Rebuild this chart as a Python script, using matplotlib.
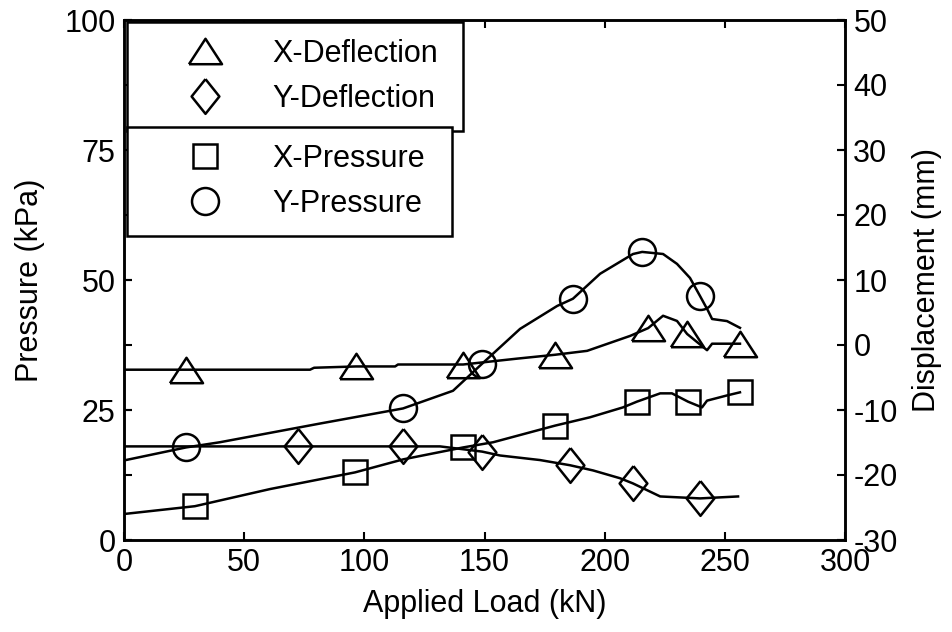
import matplotlib
matplotlib.use('Agg')
import matplotlib.pyplot as plt
from matplotlib.lines import Line2D

plt.rcParams['font.family'] = ['Liberation Sans', 'DejaVu Sans']
plt.rcParams['font.size'] = 22
plt.rcParams['axes.unicode_minus'] = False

# applied load (kN) and readings
load_xdef = [0, 25.8, 77.4, 79.1, 96.5, 112.8, 114.0, 141.1, 163.5, 179.4,
             192.7, 210.6, 218.1, 224.3, 230.1, 234.3, 242.6, 244.7, 256.3]
x_deflection = [-3.8, -3.8, -3.8, -3.5, -3.3, -3.3, -3.0, -3.0, -2.1, -1.5,
                -0.9, 1.4, 2.6, 4.5, 3.7, 1.7, -0.8, 0.2, 0.2]
xdef_marks = [1, 4, 7, 9, 12, 15, 18]

load_ydef = [0, 72.4, 116.1, 131.5, 149.0, 156.5, 173.1, 185.6, 195.2, 206.4,
             211.8, 223.1, 239.7, 255.5]
y_deflection = [-15.6, -15.6, -15.6, -15.6, -16.4, -17.0, -17.7, -18.5, -19.3,
                -20.5, -21.3, -23.3, -23.6, -23.3]
ydef_marks = [1, 2, 4, 7, 10, 12]

load_xp = [0, 29.5, 60.8, 96.1, 116.1, 141.1, 153.6, 179.4, 193.9, 207.6,
           213.4, 223.1, 228.0, 234.7, 240.5, 242.6, 250.9, 256.3]
x_pressure = [5.0, 6.5, 9.8, 13.0, 15.5, 17.8, 18.8, 22.0, 23.6, 25.5,
              26.6, 28.2, 28.2, 26.6, 25.5, 26.8, 27.8, 28.4]
xp_marks = [1, 3, 5, 7, 10, 13, 17]

load_yp = [0, 25.8, 39.9, 81.6, 116.1, 136.9, 149.0, 164.8, 180.2, 186.8,
           198.1, 211.8, 215.6, 224.3, 230.1, 235.5, 239.7, 243.0, 244.7,
           250.9, 256.3]
y_pressure = [15.3, 17.8, 18.8, 22.4, 25.3, 28.7, 33.9, 40.6, 45.0, 46.4,
              51.2, 55.0, 55.4, 55.0, 53.1, 50.4, 46.9, 44.1, 42.5, 42.1, 40.8]
yp_marks = [1, 4, 6, 9, 12, 16]

# marker shapes (triangle wider than tall, diamond taller than wide)
TRI = [(-1.3, -1.0), (1.3, -1.0), (0, 1.0), (-1.3, -1.0)]
DIA = [(0, 1.25), (1.0, 0), (0, -1.25), (-1.0, 0), (0, 1.25)]
MARKERS = {
    'X-Deflection': dict(marker=TRI, markersize=23.8),
    'Y-Deflection': dict(marker=DIA, markersize=25),
    'X-Pressure': dict(marker='s', markersize=17.3),
    'Y-Pressure': dict(marker='o', markersize=19.4),
}
LW = 1.8

fig = plt.figure(figsize=(9.53, 6.32), dpi=100)
ax = fig.add_axes([124 / 953, 1 - 540 / 632, 721 / 953, 520 / 632])
ax2 = ax.twinx()


def draw(axis, x, y, marks, name):
    axis.plot(x, y, color='black', linewidth=LW, markevery=marks,
              markerfacecolor='none', markeredgecolor='black',
              markeredgewidth=LW, **MARKERS[name])


# pressure on the left axis, displacement on the right axis
draw(ax, load_xp, x_pressure, xp_marks, 'X-Pressure')
draw(ax, load_yp, y_pressure, yp_marks, 'Y-Pressure')
draw(ax2, load_xdef, x_deflection, xdef_marks, 'X-Deflection')
draw(ax2, load_ydef, y_deflection, ydef_marks, 'Y-Deflection')

ax.set_xlim(0, 300)
ax.set_ylim(0, 100)
ax2.set_ylim(-30, 50)
ax.set_xticks(range(0, 301, 50))
ax.set_yticks(range(0, 101, 25))
ax2.set_yticks(range(-30, 51, 10))

ax.tick_params(direction='in', length=6, width=1.5, top=True, right=True,
               pad=6)
ax2.tick_params(direction='in', length=6, width=1.5, left=True, pad=6)
for a in (ax, ax2):
    for s in a.spines.values():
        s.set_linewidth(1.8)

ax.set_xlabel('Applied Load (kN)', labelpad=8)
ax.set_ylabel('Pressure (kPa)', labelpad=14)
ax2.set_ylabel('Displacement (mm)', labelpad=10)


def handle(name):
    return Line2D([], [], linestyle='none', color='black',
                  markerfacecolor='none', markeredgewidth=LW,
                  **MARKERS[name])


leg_kw = dict(loc='upper left', mode='expand', borderaxespad=0,
              borderpad=0.55, labelspacing=0.49, handlelength=4.0,
              handletextpad=0.2, fancybox=False, framealpha=1,
              edgecolor='black', bbox_transform=fig.transFigure,
              numpoints=1)

leg1 = ax2.legend([handle('X-Deflection'), handle('Y-Deflection')],
                  ['X-Deflection', 'Y-Deflection'],
                  bbox_to_anchor=(127 / 953, 1 - 22 / 632, 336 / 953, 0),
                  **leg_kw)
leg1.get_frame().set_linewidth(1.8)
ax2.add_artist(leg1)

leg2 = ax2.legend([handle('X-Pressure'), handle('Y-Pressure')],
                  ['X-Pressure', 'Y-Pressure'],
                  bbox_to_anchor=(127 / 953, 1 - 127 / 632, 325 / 953, 0),
                  **leg_kw)
leg2.get_frame().set_linewidth(1.8)

fig.savefig('out.png', dpi=100)
